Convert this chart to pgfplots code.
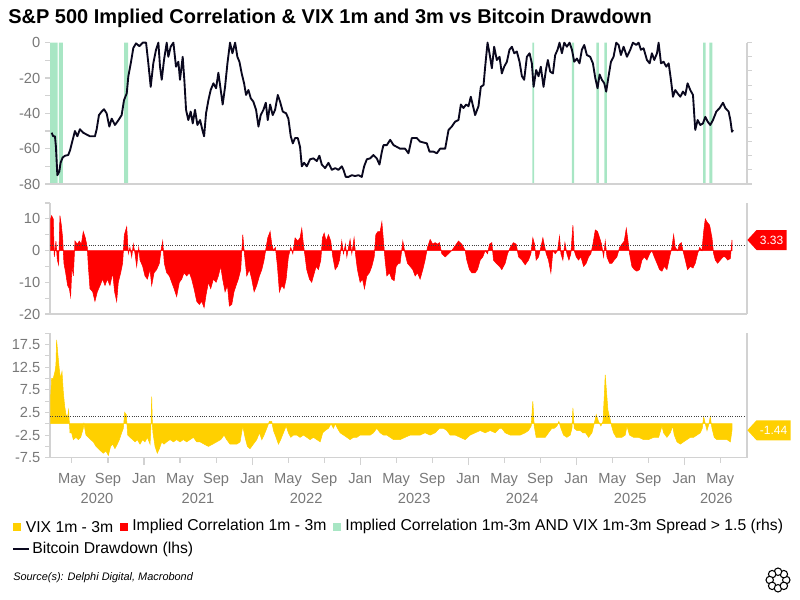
\documentclass[border=0pt]{standalone}
\usepackage{pgfplots}
\pgfplotsset{compat=1.18}
\usepackage{fontspec}
\setmainfont{Liberation Sans}
\usetikzlibrary{shapes.symbols}

\definecolor{vixyellow}{RGB}{255,208,0}
\definecolor{corrred}{RGB}{255,0,0}
\definecolor{bandgreen}{RGB}{168,230,196}
\definecolor{btcblack}{RGB}{10,8,30}
\definecolor{axiscol}{RGB}{210,210,210}
\definecolor{tickcol}{RGB}{120,120,120}

\pgfplotsset{
  panel/.style={
    scale only axis, width=522.75pt,
    xmin=2020.13, xmax=2026.58,
    axis x line*=bottom, axis y line*=left,
    axis line style={draw=axiscol, line width=0.8pt},
    tick style={draw=axiscol, line width=0.8pt},
    tick align=outside, major tick length=3.75pt, minor tick length=3.75pt,
    tick label style={font=\fontsize{11}{13}\selectfont, text=tickcol},
    /pgf/number format/assume math mode=true,
    clip=false,
  },
}

\begin{document}
\begin{tikzpicture}
\path[use as bounding box] (0,0) rectangle (600pt,450pt);

\node[anchor=west, inner sep=0pt, font=\bfseries\fontsize{15}{18}\selectfont] at (6pt,436.5pt)
  {S\&P 500 Implied Correlation \& VIX 1m and 3m vs Bitcoin Drawdown};

% ---------- top panel: green indicator (rhs) ----------
\begin{axis}[panel, at={(37.5pt,312pt)}, anchor=south west, height=106pt,
  ymin=0, ymax=1, axis x line=none, axis y line*=right,
  ytick={0,0.1,0.2,0.3,0.4,0.5,0.6,0.7,0.8,0.9,1}, yticklabels={}, xtick=\empty]
\addplot[const plot mark left, fill=bandgreen, draw=none] coordinates {
(2020.130,1) (2020.201,0) (2020.213,1) (2020.250,0) (2020.815,1) (2020.852,0)
(2024.593,1) (2024.611,0) (2024.960,1) (2024.979,0) (2025.185,1) (2025.210,0)
(2025.259,1) (2025.284,0) (2026.173,1) (2026.197,0) (2026.231,1) (2026.259,0)
(2026.580,0)} \closedcycle;
\end{axis}

% ---------- top panel: Bitcoin drawdown (lhs) ----------
\begin{axis}[panel, at={(37.5pt,312pt)}, anchor=south west, height=106pt,
  ymin=-80, ymax=0, ytick={-80,-60,-40,-20,0}, minor ytick={-70,-50,-30,-10}, xtick=\empty,
  y axis line style={draw=none}]
\addplot[btcblack, line width=1.4pt, line join=round] coordinates {
(2020.145,-51) (2020.160,-53) (2020.176,-53) (2020.185,-59) (2020.198,-75) (2020.216,-73)
(2020.228,-68) (2020.247,-65) (2020.269,-64) (2020.299,-63.6) (2020.315,-61) (2020.340,-55)
(2020.361,-50) (2020.383,-53) (2020.407,-49) (2020.438,-51) (2020.469,-52) (2020.500,-53)
(2020.546,-53) (2020.562,-49) (2020.583,-41) (2020.608,-39) (2020.630,-37.7) (2020.654,-40)
(2020.679,-47.5) (2020.701,-43) (2020.731,-46.6) (2020.762,-44) (2020.793,-41) (2020.815,-32.5)
(2020.840,-28.7) (2020.855,-19) (2020.880,-10.8) (2020.901,-3) (2020.926,-0.4) (2020.957,-2)
(2020.988,0) (2021.019,0) (2021.040,-11.7) (2021.062,-25) (2021.086,-11.7) (2021.111,-4)
(2021.133,0) (2021.148,-13.6) (2021.164,-21) (2021.185,-9.8) (2021.210,0) (2021.225,-8)
(2021.247,-2.3) (2021.272,0) (2021.296,-13.6) (2021.318,-10.8) (2021.333,-21) (2021.358,-8)
(2021.373,-21) (2021.389,-38) (2021.410,-43.8) (2021.432,-39) (2021.451,-45.7) (2021.472,-38)
(2021.494,-46.6) (2021.519,-43.8) (2021.540,-49.4) (2021.556,-53) (2021.574,-40) (2021.596,-32.5)
(2021.617,-26.8) (2021.642,-23) (2021.667,-25.8) (2021.688,-17) (2021.710,-26.8) (2021.728,-35)
(2021.750,-25) (2021.772,-11.7) (2021.796,0) (2021.818,-6) (2021.843,0) (2021.864,-8)
(2021.883,-10.8) (2021.904,-17.4) (2021.926,-23) (2021.944,-29.6) (2021.966,-26.8) (2021.988,-31.5)
(2022.012,-33.4) (2022.037,-38) (2022.059,-47.5) (2022.080,-41) (2022.105,-38) (2022.127,-34)
(2022.145,-43.8) (2022.167,-35) (2022.191,-41) (2022.213,-38) (2022.238,-29.6) (2022.259,-33.4)
(2022.284,-39) (2022.315,-40) (2022.336,-43) (2022.358,-53) (2022.377,-57) (2022.398,-54)
(2022.423,-54) (2022.444,-59) (2022.460,-70) (2022.481,-68) (2022.506,-70) (2022.537,-66)
(2022.568,-65.5) (2022.599,-67) (2022.623,-64) (2022.645,-69) (2022.676,-71) (2022.707,-68)
(2022.738,-72) (2022.769,-71) (2022.799,-72) (2022.830,-70) (2022.846,-72) (2022.867,-76)
(2022.892,-76) (2022.923,-75) (2022.954,-75.5) (2022.985,-75) (2023.015,-76) (2023.037,-70)
(2023.062,-66) (2023.093,-65.5) (2023.123,-63.6) (2023.154,-65.5) (2023.179,-69) (2023.201,-61.7)
(2023.216,-58) (2023.247,-58) (2023.278,-55) (2023.309,-58) (2023.340,-59)
(2023.370,-60) (2023.416,-60) (2023.447,-62.6) (2023.478,-54) (2023.524,-54) (2023.555,-56)
(2023.617,-57) (2023.642,-61.7) (2023.679,-61.7) (2023.710,-62.6) (2023.740,-60) (2023.787,-60)
(2023.818,-49.4) (2023.848,-47.5) (2023.879,-44.7) (2023.910,-43.8) (2023.932,-35) (2023.956,-37)
(2023.981,-35) (2024.003,-36) (2024.024,-30.6) (2024.049,-37) (2024.064,-41) (2024.095,-36)
(2024.117,-25) (2024.142,-24) (2024.157,-13.6) (2024.179,0) (2024.197,-6) (2024.219,-14.5)
(2024.240,-2.3) (2024.265,-9.8) (2024.290,-8) (2024.311,-17.4) (2024.333,-13.6) (2024.358,-10.8)
(2024.382,-4) (2024.404,-2.3) (2024.426,-6) (2024.450,-5) (2024.475,-10.8) (2024.497,-19)
(2024.518,-21) (2024.543,-8) (2024.568,-6) (2024.589,-11.7) (2024.605,-25) (2024.629,-15.5)
(2024.651,-19) (2024.672,-13.6) (2024.697,-25) (2024.719,-15.5) (2024.737,-9.8) (2024.759,-16.4)
(2024.784,-17.4) (2024.805,-7) (2024.827,-4) (2024.845,0) (2024.867,-6) (2024.889,0)
(2024.913,-2.3) (2024.938,0) (2024.960,-4) (2024.981,-10.8) (2025.006,-9) (2025.030,-11.7)
(2025.052,-4) (2025.074,-1.3) (2025.098,-7) (2025.129,-8) (2025.154,-11.7) (2025.176,-20)
(2025.197,-25.8) (2025.216,-18) (2025.237,-21) (2025.259,-23) (2025.277,-27.7) (2025.299,-19)
(2025.321,-10.8) (2025.345,-8) (2025.370,0) (2025.392,-1.3) (2025.413,-7) (2025.438,-2.3)
(2025.469,-8) (2025.500,-4) (2025.524,0) (2025.555,-1.3) (2025.577,0) (2025.598,-4)
(2025.623,-3.2) (2025.654,-9.8) (2025.679,-11.7) (2025.700,-6) (2025.722,-9.8) (2025.747,-6)
(2025.762,0) (2025.784,-11.7) (2025.808,-10.8) (2025.833,-13.6) (2025.855,-11.7) (2025.876,-21)
(2025.895,-30.6) (2025.916,-26.8) (2025.938,-28.7) (2025.963,-30.6) (2025.987,-27.7) (2026.009,-29.6)
(2026.030,-23) (2026.055,-26.8) (2026.080,-29.6) (2026.101,-49.4) (2026.123,-43.8) (2026.148,-46.6)
(2026.172,-45.7) (2026.194,-42) (2026.216,-44.7) (2026.240,-46.6) (2026.265,-43.8) (2026.296,-39)
(2026.327,-37) (2026.358,-34) (2026.379,-37) (2026.410,-39) (2026.426,-43.8) (2026.441,-50.4)
(2026.450,-49.4)};
\end{axis}

% ---------- middle panel: implied correlation ----------
\begin{axis}[panel, at={(37.5pt,214.5pt)}, anchor=south west, height=83.25pt,
  ymin=-20, ymax=15, ytick={-20,-15,-10,-5,0,5,10,15}, yticklabels={-20,,-10,,0,,10,}, xtick=\empty]
\addplot[fill=corrred, draw=corrred, line width=0.4pt] coordinates {
(2020.136,10) (2020.145,11) (2020.160,10) (2020.170,-2) (2020.185,3) (2020.198,-3)
(2020.210,-4.5) (2020.222,11) (2020.235,8) (2020.247,4) (2020.259,-4) (2020.275,-7)
(2020.293,-11) (2020.309,-12) (2020.321,-14.5) (2020.333,-5) (2020.346,-8) (2020.361,3)
(2020.383,2) (2020.401,3) (2020.420,2) (2020.438,6) (2020.457,4) (2020.475,1)
(2020.485,-5) (2020.500,-12) (2020.525,-13) (2020.546,-16) (2020.568,-13) (2020.593,-11)
(2020.617,-9) (2020.639,-11) (2020.660,-9) (2020.685,-11) (2020.710,-7) (2020.728,-13)
(2020.747,-16) (2020.762,-10) (2020.784,-7) (2020.802,-4) (2020.818,5) (2020.840,7.5)
(2020.855,-1) (2020.870,1) (2020.886,-2) (2020.901,2) (2020.917,-1) (2020.932,-5)
(2020.951,1) (2020.963,-3) (2020.988,-5) (2021.009,-8) (2021.031,-9) (2021.056,-6)
(2021.071,-11) (2021.093,-7) (2021.117,-6) (2021.142,-4) (2021.157,0) (2021.173,3)
(2021.188,-4) (2021.210,-7) (2021.235,-8) (2021.256,-10) (2021.278,-12) (2021.302,-14.5)
(2021.327,-10) (2021.349,-9) (2021.370,-7) (2021.395,-8) (2021.420,-7) (2021.441,-9)
(2021.463,-12) (2021.488,-16) (2021.512,-17) (2021.534,-16) (2021.556,-18) (2021.574,-14)
(2021.596,-10) (2021.617,-12) (2021.642,-9) (2021.667,-10) (2021.688,-8) (2021.710,-5)
(2021.728,-9) (2021.750,-13) (2021.772,-11) (2021.790,-17.5) (2021.812,-17) (2021.833,-13)
(2021.852,-11) (2021.873,-9) (2021.895,-6) (2021.914,5) (2021.929,-1) (2021.951,-8)
(2021.975,-6) (2021.997,-9) (2022.019,-13) (2022.043,-11) (2022.068,-8) (2022.090,-6)
(2022.111,-3) (2022.130,1) (2022.145,4) (2022.167,6) (2022.182,2) (2022.198,0)
(2022.216,1) (2022.235,-5) (2022.253,-13) (2022.275,-11) (2022.296,-12) (2022.315,-9)
(2022.336,-2) (2022.358,1) (2022.377,-1) (2022.398,4) (2022.423,3) (2022.444,4)
(2022.460,7) (2022.475,2) (2022.491,-2) (2022.506,-6) (2022.531,-9) (2022.552,-10)
(2022.568,-8) (2022.593,-5) (2022.614,-6) (2022.636,-3) (2022.651,4) (2022.667,5.5)
(2022.685,3) (2022.707,5) (2022.728,3) (2022.747,-2) (2022.769,-6) (2022.790,-5)
(2022.809,-3) (2022.830,3) (2022.846,-1) (2022.864,2) (2022.877,-2) (2022.892,1)
(2022.907,3.5) (2022.923,-1) (2022.944,4) (2022.960,-2) (2022.975,-6) (2023.000,-10)
(2023.022,-9) (2023.040,-12) (2023.062,-8) (2023.086,-7) (2023.108,-5) (2023.130,-2)
(2023.145,5) (2023.164,6) (2023.185,6) (2023.201,9) (2023.216,3) (2023.231,-3)
(2023.247,-8) (2023.272,-7) (2023.293,-9) (2023.315,-9.5) (2023.333,-5) (2023.355,-4)
(2023.370,-4) (2023.395,3) (2023.416,-1) (2023.438,-4) (2023.463,-5) (2023.487,-6)
(2023.509,-8) (2023.530,-7) (2023.555,-9) (2023.580,-6) (2023.601,-3) (2023.623,1)
(2023.648,3.5) (2023.672,2) (2023.694,2.5) (2023.716,2) (2023.734,2.5) (2023.756,-1)
(2023.787,-2) (2023.818,-1) (2023.848,0) (2023.879,1.5) (2023.910,3) (2023.941,2)
(2023.972,0) (2023.987,-3) (2024.012,-6) (2024.034,-7) (2024.064,-7) (2024.086,-6)
(2024.111,-3) (2024.135,-2) (2024.157,0) (2024.179,-1) (2024.197,2) (2024.219,2.5)
(2024.234,-3) (2024.259,-4) (2024.290,-5) (2024.311,-6) (2024.342,-4) (2024.364,-1)
(2024.389,1) (2024.419,2.5) (2024.444,2) (2024.466,-2) (2024.497,-3) (2024.527,-4.5)
(2024.558,-3) (2024.580,-1) (2024.598,4) (2024.614,2) (2024.629,-3) (2024.651,-2)
(2024.672,1) (2024.691,4) (2024.703,2) (2024.722,-1) (2024.743,-3) (2024.765,-7)
(2024.784,0) (2024.805,-1) (2024.827,0) (2024.845,4.5) (2024.858,-1) (2024.876,-3)
(2024.895,2.5) (2024.913,-1) (2024.932,-3) (2024.950,-1) (2024.969,8) (2024.981,0)
(2025.000,-2) (2025.021,-3) (2025.043,-2) (2025.068,-5) (2025.092,-4) (2025.114,-2)
(2025.135,-1) (2025.154,2) (2025.176,6.5) (2025.197,6) (2025.216,4) (2025.234,2)
(2025.253,-2) (2025.268,3) (2025.284,-2) (2025.308,-4) (2025.330,-4) (2025.351,-3)
(2025.376,-2) (2025.401,1) (2025.422,2) (2025.444,3) (2025.463,7) (2025.475,4)
(2025.493,-1) (2025.515,-5) (2025.537,-6) (2025.561,-6.5) (2025.586,-6) (2025.608,-3)
(2025.629,-2) (2025.654,-3) (2025.679,-1) (2025.700,0) (2025.722,-2) (2025.747,-4)
(2025.771,-6) (2025.793,-6.5) (2025.814,-5) (2025.839,-6) (2025.864,-2) (2025.885,1)
(2025.901,5) (2025.916,1) (2025.938,0) (2025.956,2) (2025.972,2.5) (2025.987,0)
(2026.009,-3) (2026.030,-6) (2026.055,-5) (2026.080,-5.5) (2026.101,-4) (2026.123,-1)
(2026.142,1) (2026.163,0) (2026.179,6) (2026.194,10) (2026.210,9) (2026.234,8)
(2026.256,4) (2026.271,-1) (2026.287,-3) (2026.308,-4) (2026.333,-3) (2026.358,-2)
(2026.379,-2) (2026.401,-3) (2026.426,-2.5) (2026.441,3.33)} \closedcycle;
\addplot[black!75, densely dotted, line width=0.7pt] coordinates {(2020.13,1.5) (2026.58,1.5)};
\draw[axiscol, line width=0.8pt] (rel axis cs:1,0) -- (rel axis cs:1,1);
\node[signal, signal to=west, signal pointer angle=95, fill=corrred, text=white,
  font=\fontsize{9}{10}\selectfont, inner sep=2.5pt, minimum height=15pt, anchor=west]
  at ({rel axis cs:1,0} |- {axis cs:2026,3.33}) {3.33};
\end{axis}

% ---------- bottom panel: VIX ----------
\begin{axis}[panel, at={(37.5pt,106.7pt)}, anchor=south west, height=93.5pt,
  ymin=-7.5, ymax=20, ytick={-7.5,-5,-2.5,0,2.5,5,7.5,10,12.5,15,17.5,20},
  yticklabels={-7.5,,-2.5,,2.5,,7.5,,12.5,,17.5,},
  xtick={2020.333,2020.667,2021,2021.333,2021.667,2022,2022.333,2022.667,2023,2023.333,2023.667,2024,2024.333,2024.667,2025,2025.333,2025.667,2026,2026.333},
  xticklabels={May,Sep,Jan,May,Sep,Jan,May,Sep,Jan,May,Sep,Jan,May,Sep,Jan,May,Sep,Jan,May},
  minor xtick={2021,2022,2023,2024,2025,2026}, minor tick length=5.5pt,
  xticklabel style={yshift=-4.5pt},
  extra x ticks={2020.565,2021.5,2022.5,2023.5,2024.5,2025.5,2026.296},
  extra x tick labels={2020,2021,2022,2023,2024,2025,2026},
  extra x tick style={tick style={draw=none}, xticklabel style={yshift=-15pt}},
  ]
\addplot[fill=vixyellow, draw=vixyellow, line width=0.4pt] coordinates {
(2020.136,6) (2020.145,10) (2020.160,10) (2020.176,11.5) (2020.185,13) (2020.191,18.5)
(2020.204,15) (2020.216,12) (2020.228,10) (2020.241,11.5) (2020.253,7) (2020.265,4)
(2020.278,2) (2020.293,1.5) (2020.302,3) (2020.315,-2) (2020.330,-2) (2020.346,-3.5)
(2020.370,-3) (2020.392,-3.5) (2020.414,-3) (2020.438,-1) (2020.444,0) (2020.463,-2.5)
(2020.485,-3) (2020.506,-3.5) (2020.531,-4) (2020.556,-5) (2020.577,-5.5) (2020.599,-6)
(2020.623,-6.5) (2020.648,-6) (2020.670,-7) (2020.691,-5) (2020.710,-4.5) (2020.731,-5.5)
(2020.753,-4.5) (2020.772,-3.5) (2020.793,-2) (2020.809,-1) (2020.821,2.5) (2020.836,2)
(2020.849,-2.5) (2020.870,-3) (2020.895,-3.5) (2020.917,-4) (2020.938,-3.5) (2020.963,-4.5)
(2020.988,-3.5) (2021.009,-4) (2021.031,-3) (2021.056,-4.5) (2021.065,0) (2021.071,6)
(2021.077,0) (2021.083,-2) (2021.102,-5) (2021.123,-6.5) (2021.142,-5.5) (2021.164,-4)
(2021.185,-4.5) (2021.210,-4) (2021.241,-3.5) (2021.272,-4) (2021.302,-3.5) (2021.333,-4)
(2021.364,-3.5) (2021.395,-4) (2021.426,-3.5) (2021.457,-3) (2021.488,-4) (2021.519,-4)
(2021.556,-4.5) (2021.596,-5) (2021.636,-4.5) (2021.673,-4) (2021.710,-3.5) (2021.741,-2.5)
(2021.765,-3.5) (2021.796,-4.5) (2021.827,-4.5) (2021.858,-4.5) (2021.889,-4) (2021.914,-0.5)
(2021.935,-3) (2021.957,-5) (2021.981,-5.5) (2022.012,-4.5) (2022.043,-3.5) (2022.068,-2)
(2022.090,-3.5) (2022.111,-2.5) (2022.136,-1) (2022.160,0.5) (2022.182,0.5) (2022.198,-1.5)
(2022.222,-3) (2022.244,-4.5) (2022.265,-3.5) (2022.290,-2) (2022.315,-0.5) (2022.336,-2)
(2022.358,-3) (2022.383,-2.5) (2022.414,-2.5) (2022.444,-3) (2022.475,-2.5) (2022.506,-3)
(2022.537,-3.5) (2022.568,-3) (2022.599,-3.5) (2022.630,-4) (2022.654,-2) (2022.676,-1.5)
(2022.707,-1) (2022.731,0) (2022.753,-1) (2022.769,0) (2022.790,-1) (2022.815,-2)
(2022.846,-2.5) (2022.877,-3) (2022.907,-3.5) (2022.938,-3) (2022.969,-3) (2023.000,-2.5)
(2023.031,-2.5) (2023.062,-2.5) (2023.093,-2.5) (2023.123,-2) (2023.154,-1) (2023.185,-2)
(2023.216,-2.5) (2023.247,-2.5) (2023.278,-3) (2023.309,-3.5) (2023.355,-3.5)
(2023.370,-3.5) (2023.416,-3) (2023.463,-2.5) (2023.509,-2.5) (2023.555,-2.5) (2023.601,-2)
(2023.648,-2.5) (2023.694,-2) (2023.734,-1) (2023.771,-1) (2023.802,-1.5) (2023.833,-2.5)
(2023.879,-2.5) (2023.926,-3) (2023.972,-3.5) (2024.018,-2.5) (2024.064,-2) (2024.111,-1.5)
(2024.157,-2) (2024.203,-1.5) (2024.250,-2) (2024.290,-1) (2024.311,-1) (2024.342,-2)
(2024.389,-2.5) (2024.435,-2.5) (2024.481,-2.5) (2024.527,-2) (2024.558,-1.5) (2024.583,-0.5)
(2024.598,5) (2024.611,-0.5) (2024.629,-3) (2024.651,-3) (2024.682,-3) (2024.713,-3)
(2024.743,-2) (2024.774,-1) (2024.796,-1) (2024.821,-0.5) (2024.839,0.5) (2024.858,-1)
(2024.882,-2.5) (2024.913,-3) (2024.944,-2.5) (2024.960,-1) (2024.969,3.5) (2024.981,-1)
(2025.006,-1.5) (2025.037,-1.5) (2025.061,-2) (2025.086,-2) (2025.114,-3) (2025.145,-2)
(2025.166,0) (2025.185,2) (2025.206,0.5) (2025.228,-0.5) (2025.247,0.5) (2025.259,6)
(2025.268,10.8) (2025.280,7) (2025.293,3) (2025.308,1.5) (2025.327,-0.5) (2025.345,-2)
(2025.370,-3) (2025.392,-3) (2025.422,-3) (2025.453,-2.5) (2025.469,-0.5) (2025.493,-2.5)
(2025.530,-3) (2025.577,-3) (2025.623,-3.5) (2025.669,-3.5) (2025.716,-3) (2025.762,-3)
(2025.793,-0.5) (2025.808,-2) (2025.839,-3) (2025.870,-2) (2025.892,-0.5) (2025.907,-2.5)
(2025.932,-4) (2025.963,-4.5) (2025.993,-4) (2026.024,-3.5) (2026.055,-3) (2026.086,-3)
(2026.117,-2.5) (2026.148,-2) (2026.166,-1) (2026.179,1.5) (2026.194,0) (2026.210,-1.5)
(2026.228,0) (2026.240,1.5) (2026.256,-1) (2026.277,-3) (2026.302,-3.5) (2026.333,-3.5)
(2026.364,-3.5) (2026.395,-3.5) (2026.426,-4) (2026.441,-1.44)} \closedcycle;
\addplot[black!75, densely dotted, line width=0.7pt] coordinates {(2020.13,1.5) (2026.58,1.5)};
\draw[axiscol, line width=0.8pt] (rel axis cs:1,0) -- (rel axis cs:1,1);
\node[signal, signal to=west, signal pointer angle=95, fill=vixyellow, text=white,
  font=\fontsize{9}{10}\selectfont, inner sep=2.5pt, minimum height=15pt, anchor=west]
  at ({rel axis cs:1,0} |- {axis cs:2026,-1.44}) {-1.44};
\end{axis}

% ---------- legend ----------
\begin{scope}[font=\fontsize{11.8}{14}\selectfont]
\node[fill=vixyellow, minimum size=6pt, inner sep=0pt, anchor=west] (s1) at (9.75pt,55pt) {};
\node[anchor=west, inner sep=0pt] (t1) at ([xshift=3pt]s1.east) {VIX 1m - 3m};
\node[fill=corrred, minimum size=6pt, inner sep=0pt, anchor=west] (s2) at ([xshift=4.5pt]t1.east) {};
\node[anchor=west, inner sep=0pt] (t2) at ([xshift=3pt]s2.east) {Implied Correlation 1m - 3m};
\node[fill=bandgreen, minimum size=6pt, inner sep=0pt, anchor=west] (s3) at ([xshift=4.5pt]t2.east) {};
\node[anchor=west, inner sep=0pt] (t3) at ([xshift=3pt]s3.east) {Implied Correlation 1m-3m AND VIX 1m-3m Spread > 1.5 (rhs)};
\draw[btcblack, line width=1.5pt] (9.75pt,38.25pt) -- (21.75pt,38.25pt);
\node[anchor=west, inner sep=0pt] at (24pt,38.25pt) {Bitcoin Drawdown (lhs)};
\end{scope}
\node[anchor=west, inner sep=0pt, font=\itshape\fontsize{8.2}{10}\selectfont] at (9.75pt,16.5pt)
  {Source(s): Delphi Digital, Macrobond};

% ---------- logo ----------
\foreach \a in {0,45,...,315} {
  \draw[black, line width=0.8pt, fill=white] (583.5pt,15pt) ++(\a:6.2pt) circle (2.8pt);
}
\end{tikzpicture}
\end{document}
